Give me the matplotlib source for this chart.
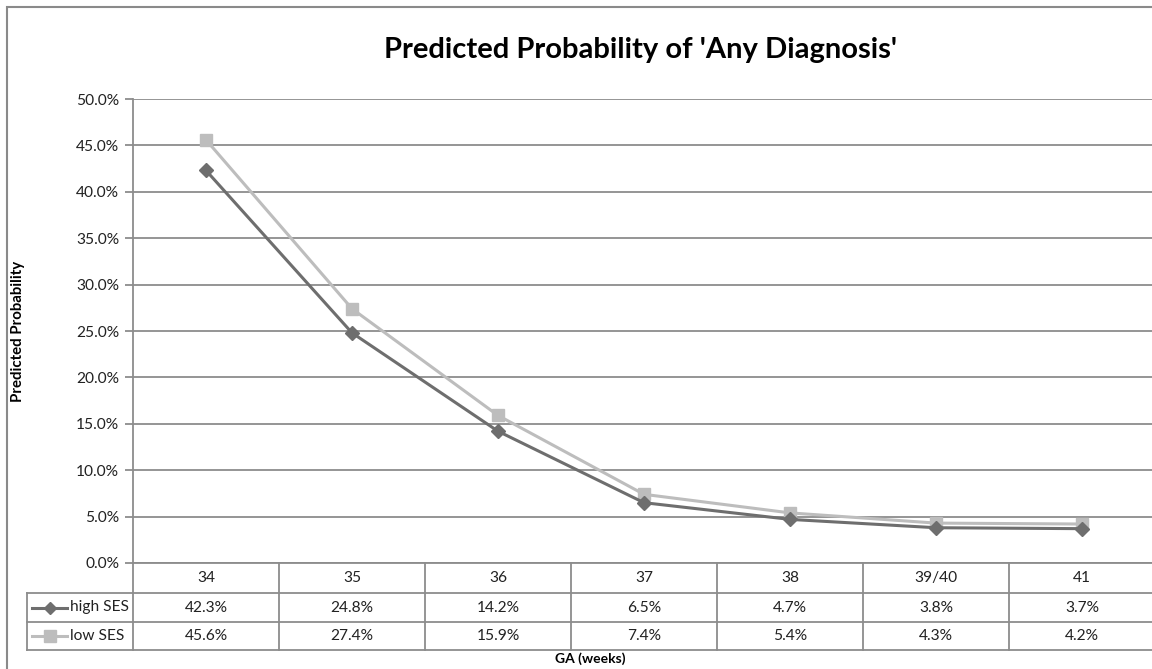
import matplotlib.pyplot as plt
from matplotlib.lines import Line2D
from matplotlib.patches import Rectangle

plt.rcParams['font.family'] = ['Lato', 'DejaVu Sans']

ga_weeks = ['34', '35', '36', '37', '38', '39/40', '41']
high_ses = [42.3, 24.8, 14.2, 6.5, 4.7, 3.8, 3.7]
low_ses = [45.6, 27.4, 15.9, 7.4, 5.4, 4.3, 4.2]
yticks = [0, 5, 10, 15, 20, 25, 30, 35, 40, 45, 50]

dark = '#6e6e6e'
light = '#bdbdbd'
grid = '#8c8c8c'
txt = '#222222'
fs = 11.2

W, H = 1152, 669
fig = plt.figure(figsize=(W / 100, H / 100), dpi=100)


def fx(px):
    return px / W


def fy(py):
    return 1 - py / H


# plot area in pixel coordinates
left, right, top, bottom = 133, 1155, 99, 563
col_w = (right - left) / len(ga_weeks)
ax = fig.add_axes([fx(left), fy(bottom), fx(right - left), (bottom - top) / H])

x = list(range(len(ga_weeks)))
ax.plot(x, high_ses, color=dark, lw=2.2, marker='D', ms=7, zorder=3)
ax.plot(x, low_ses, color=light, lw=2.2, marker='s', ms=9, zorder=2)

ax.set_xlim(-0.5, len(ga_weeks) - 0.5)
ax.set_ylim(0, 50)
ax.set_yticks(yticks)
ax.set_yticklabels([f'{v:.1f}%' for v in yticks], fontsize=fs, color=txt)
ax.set_xticks([])
for v in yticks:
    ax.axhline(v, color=grid, lw=1.3, zorder=0)
for s in ['top', 'right', 'bottom']:
    ax.spines[s].set_visible(False)
ax.spines['left'].set_color(grid)
ax.spines['left'].set_linewidth(1.3)
ax.tick_params(axis='y', length=6, color=grid, width=1.3, pad=4)

# data table under the plot
rows = [563, 593, 622, 650]
table_left = 27
for i, y in enumerate(rows):
    x0 = left if i == 0 else table_left
    fig.add_artist(Line2D([fx(x0), fx(right)], [fy(y), fy(y)], color=grid, lw=1.3))
for k in range(len(ga_weeks) + 1):
    xc = left + k * col_w
    fig.add_artist(Line2D([fx(xc), fx(xc)], [fy(rows[0]), fy(rows[-1])], color=grid, lw=1.3))
fig.add_artist(Line2D([fx(table_left), fx(table_left)], [fy(rows[1]), fy(rows[-1])],
                      color=grid, lw=1.3))

for k, lab in enumerate(ga_weeks):
    xc = left + (k + 0.5) * col_w
    fig.text(fx(xc), fy((rows[0] + rows[1]) / 2), lab, ha='center', va='center',
             fontsize=fs, color=txt)
    fig.text(fx(xc), fy((rows[1] + rows[2]) / 2), f'{high_ses[k]:.1f}%', ha='center',
             va='center', fontsize=fs, color=txt)
    fig.text(fx(xc), fy((rows[2] + rows[3]) / 2), f'{low_ses[k]:.1f}%', ha='center',
             va='center', fontsize=fs, color=txt)

# legend keys inside the table
for (name, col, mk, ms), r in zip([('high SES', dark, 'D', 6), ('low SES', light, 's', 8)],
                                  [0, 1]):
    yc = fy((rows[1 + r] + rows[2 + r]) / 2)
    fig.add_artist(Line2D([fx(32), fx(67)], [yc, yc], color=col, lw=2.2))
    fig.add_artist(Line2D([fx(49.5)], [yc], color=col, marker=mk, ms=ms, lw=0))
    fig.text(fx(70), yc, name, ha='left', va='center', fontsize=fs, color=txt)

# titles and axis labels
fig.text(fx(640), fy(50), "Predicted Probability of 'Any Diagnosis'", ha='center',
         va='center', fontsize=21, fontweight='bold')
fig.text(fx(18), fy(331), 'Predicted Probability', rotation=90, ha='center', va='center',
         fontsize=10.8, fontweight='bold')
fig.text(fx(590), fy(659), 'GA (weeks)', ha='center', va='center', fontsize=10,
         fontweight='bold')

# chart border
fig.add_artist(Rectangle((fx(6.5), fy(700)), fx(1200), (700 - 6.5) / H, fill=False,
                         edgecolor='#8a8a8a', lw=1.5))

fig.savefig('out.png', dpi=100)
